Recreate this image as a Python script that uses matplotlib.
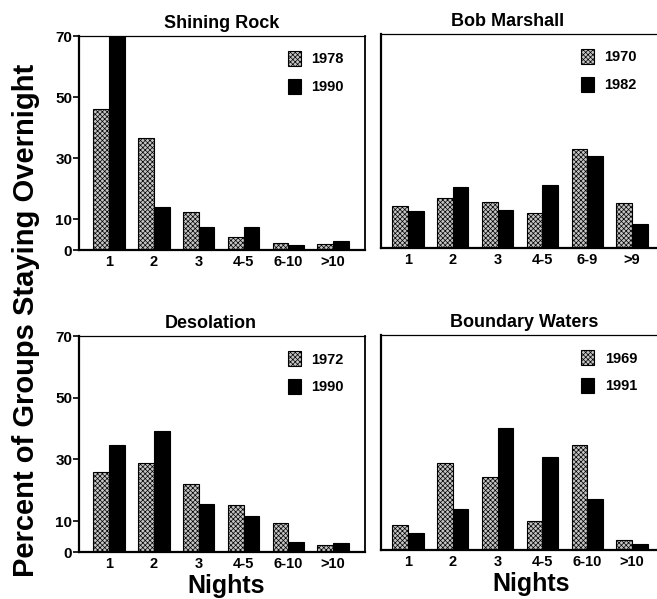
import matplotlib
matplotlib.use('Agg')
import matplotlib.pyplot as plt
import numpy as np

plt.rcParams['font.family'] = ['Liberation Sans', 'DejaVu Sans']
plt.rcParams['font.weight'] = 'bold'
plt.rcParams['hatch.linewidth'] = 0.5

# nights categories
cats_a = ['1', '2', '3', '4-5', '6-10', '>10']
cats_b = ['1', '2', '3', '4-5', '6-9', '>9']

# percent of groups
shining_1978 = [46, 36.5, 12.4, 4.4, 2.4, 2.0]
shining_1990 = [70, 14, 7.6, 7.6, 1.6, 3.0]
bob_1970 = [13.7, 16.3, 15.2, 11.5, 32.5, 14.6]
bob_1982 = [12.0, 19.8, 12.4, 20.5, 30.0, 7.8]
desol_1972 = [25.9, 28.8, 22.0, 15.2, 9.4, 2.3]
desol_1990 = [34.7, 39.2, 15.5, 11.7, 3.2, 2.9]
bw_1969 = [8.1, 28.3, 23.8, 9.4, 34.2, 3.3]
bw_1991 = [5.5, 13.4, 39.7, 30.3, 16.6, 2.0]

panels = [
    ('Shining Rock', cats_a, shining_1978, shining_1990, '1978', '1990'),
    ('Bob Marshall', cats_b, bob_1970, bob_1982, '1970', '1982'),
    ('Desolation', cats_a, desol_1972, desol_1990, '1972', '1990'),
    ('Boundary Waters', cats_a, bw_1969, bw_1991, '1969', '1991'),
]

W, H = 657, 599
fig = plt.figure(figsize=(W / 100, H / 100), dpi=100)

# axes boxes in pixels: left, top, right, bottom
boxes = [(79, 36, 365, 250), (381, 34, 667, 248),
         (79, 336, 365, 552), (381, 335, 667, 550)]
title_x = [0.5, 0.444, 0.46, 0.50]
xlim_left = [-0.67, -0.6, -0.67, -0.6]
leg_right = [21, 30, 21, 30]
width = 0.35

for i, (title, cats, old, new, lab_old, lab_new) in enumerate(panels):
    l, t, r, b = boxes[i]
    ax = fig.add_axes([l / W, 1 - b / H, (r - l) / W, (b - t) / H])
    x = np.arange(len(cats))
    ax.bar(x - width / 2, old, width, facecolor='#c4c4c4', edgecolor='black',
           hatch='xxxxxxx', linewidth=0.8, label=lab_old)
    ax.bar(x + width / 2, new, width, color='black', edgecolor='black',
           linewidth=0.8, label=lab_new)
    ax.set_xlim(xlim_left[i], xlim_left[i] + 6.38)
    ax.set_ylim(0, 70)
    ax.set_xticks(x)
    ax.set_xticklabels(cats, fontsize=10.5, fontweight='bold')
    ax.tick_params(axis='x', length=0, pad=3.5)
    if i % 2 == 0:
        ax.set_yticks([0, 10, 30, 50, 70])
        ax.tick_params(axis='y', length=4, width=1.2, pad=0.8, labelsize=11)
    else:
        ax.set_yticks([])
    ax.spines['left'].set_linewidth(1.6)
    ax.spines['bottom'].set_linewidth(1.6)
    ax.spines['top'].set_linewidth(0.9)
    ax.spines['right'].set_linewidth(1.3)
    ax.set_title(title, fontsize=13, fontweight='bold', x=title_x[i], pad=6)
    ax.legend(loc='upper right', bbox_to_anchor=(1 - leg_right[i] / 286, 1 - 15 / 213),
              frameon=False, fontsize=10.5, handlelength=0.9, handleheight=1.2,
              handletextpad=0.7, labelspacing=0.85, borderpad=0, borderaxespad=0)
    if i in (2, 3):
        ax.text(0.514 if i == 2 else 0.524, -0.19, 'Nights', transform=ax.transAxes,
                ha='center', va='baseline', fontsize=18, fontweight='bold')

fig.text(26 / W, 1 - 320 / H, 'Percent of Groups Staying Overnight', rotation=90,
         ha='center', va='center', fontsize=21, fontweight='bold')

fig.savefig('out.png', dpi=100)
